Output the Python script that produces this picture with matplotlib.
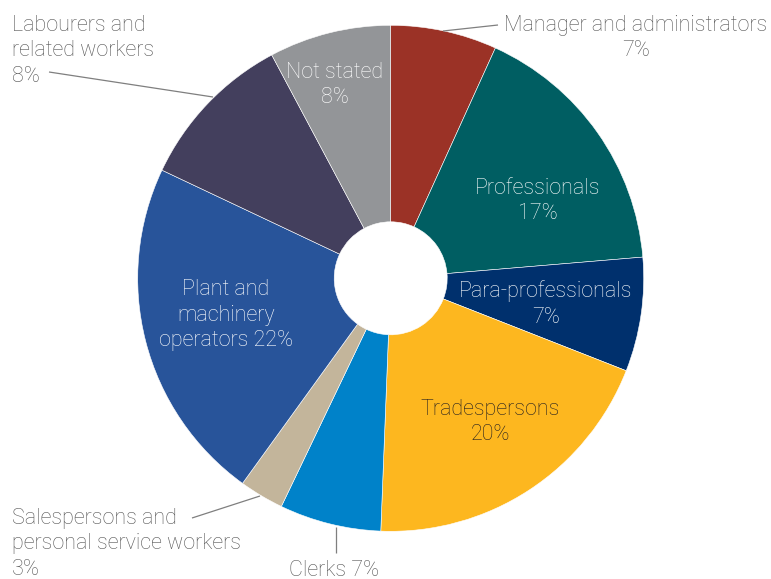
import matplotlib
matplotlib.use("Agg")
import matplotlib.pyplot as plt

categories = ["Manager and administrators", "Professionals", "Para-professionals",
              "Tradespersons", "Clerks", "Salespersons and personal service workers",
              "Plant and machinery operators", "Labourers and related workers", "Not stated"]
values = [6.8, 16.9, 7.3, 19.7, 6.5, 2.85, 22.1, 10.2, 7.8]
pct_labels = ["7%", "17%", "7%", "20%", "7%", "3%", "22%", "8%", "8%"]
colors = ["#9B3226", "#005E62", "#00306D", "#FDB71F", "#0082C9", "#C3B59B",
          "#28549A", "#433F5D", "#939598"]

W, H = 771, 579
fig = plt.figure(figsize=(W / 100, H / 100), dpi=100)
ax = fig.add_axes([0, 0, 1, 1])

cx, cy, R, r_in = 390.7, H - 278.3, 253, 56.5
ax.pie(values, colors=colors, startangle=90, counterclock=False,
       center=(cx, cy), radius=R, frame=True,
       wedgeprops=dict(width=R - r_in, edgecolor="white", linewidth=0.4))
ax.set_xlim(0, W)
ax.set_ylim(0, H)
ax.set_aspect("equal")
ax.axis("off")

FONT = ["Roboto", "DejaVu Sans"]
fs = 15.5
gray = "#555555"

def t(x, y, s, color, ha="center"):
    ax.text(x, H - y, s, ha=ha, va="center", fontsize=fs, color=color,
            family=FONT, fontweight="light", linespacing=1.3)

# inner labels
t(335, 85, "Not stated\n" + pct_labels[8], "white")
t(538, 201, "Professionals\n" + pct_labels[1], "white")
t(546, 304, "Para-professionals\n" + pct_labels[2], "white")
t(490, 422, "Tradespersons\n" + pct_labels[3], "#231F20")
t(226, 315, "Plant and\nmachinery\noperators " + pct_labels[6], "white")

# outer labels
t(636, 38, "Manager and administrators\n" + pct_labels[0], gray)
t(12, 51, "Labourers and\nrelated workers\n" + pct_labels[7], gray, ha="left")
t(12, 544, "Salespersons and\npersonal service workers\n" + pct_labels[5], gray, ha="left")
t(334, 570, "Clerks " + pct_labels[4], gray)

lc = "#7f7f7f"
def line(x0, y0, x1, y1):
    ax.plot([x0, x1], [H - y0, H - y1], color=lc, lw=0.9, solid_capstyle="butt")

line(443, 31, 498, 25)
line(49, 72, 213, 97)
line(192, 518, 260, 496)
line(336, 527, 336, 553)

fig.savefig("out.png", dpi=100, facecolor="white")
